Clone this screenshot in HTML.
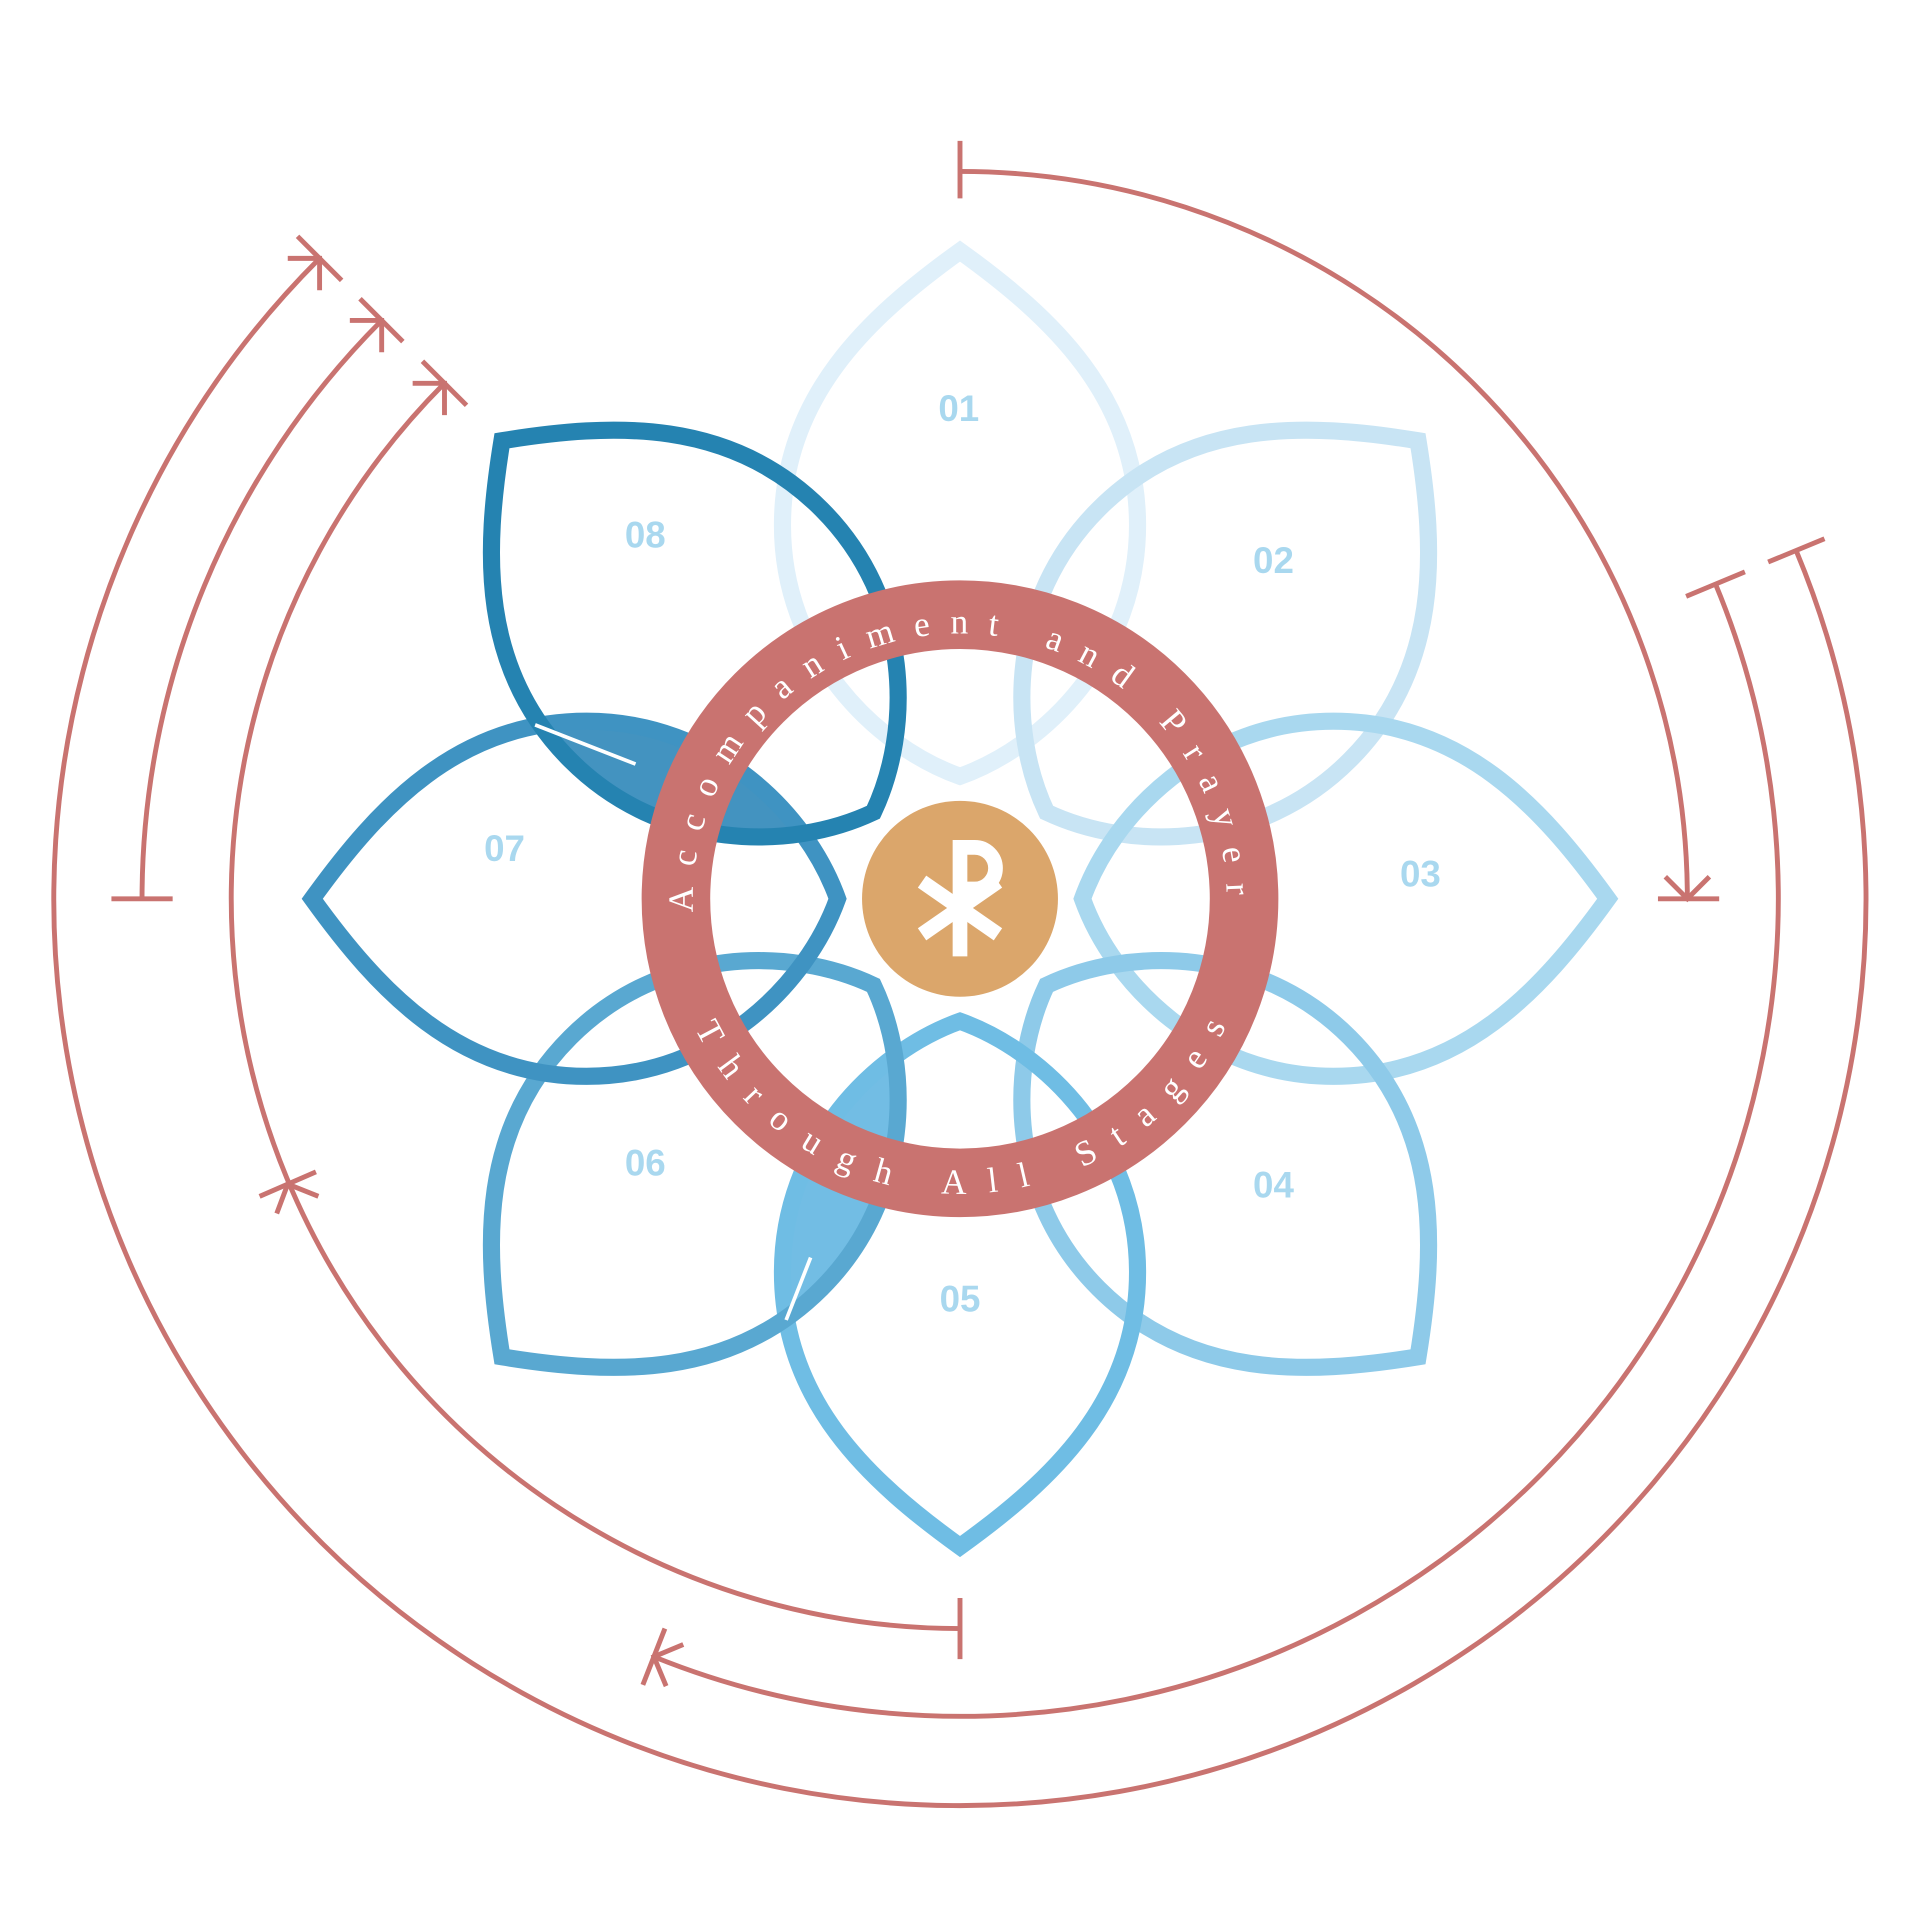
<!DOCTYPE html>
<html><head><meta charset="utf-8"><style>html,body{margin:0;padding:0;background:#fff}svg{display:block}</style></head>
<body>
<svg width="1920" height="1920" viewBox="0 0 1568 1568" xmlns="http://www.w3.org/2000/svg">
<defs>
<path id="petal" d="M0,-100 C-70,-125 -145,-200 -145,-305 C-145,-410 -75,-475 0,-529 C75,-475 145,-410 145,-305 C145,-200 70,-125 0,-100 Z"/>
<clipPath id="c08"><use href="#petal" transform="translate(784 734) rotate(315)"/></clipPath>
<clipPath id="c06"><use href="#petal" transform="translate(784 734) rotate(225)"/></clipPath>
<path id="topArc" d="M566,745 A218,218 0 1 1 998.7,771.9"/>
<path id="botArc" d="M567.4,839.6 A241,241 0 0 0 1004.2,832"/>
</defs>
<g clip-path="url(#c08)"><use href="#petal" transform="translate(784 734) rotate(270)" fill="#4393c0"/></g>
<g clip-path="url(#c06)"><use href="#petal" transform="translate(784 734) rotate(180)" fill="#72bde4"/></g>
<g fill="none" stroke-width="14" stroke-linejoin="miter">
<use href="#petal" transform="translate(784 734) rotate(0)" stroke="#e0f0fa"/>
<use href="#petal" transform="translate(784 734) rotate(45)" stroke="#c8e4f4"/>
<use href="#petal" transform="translate(784 734) rotate(90)" stroke="#a9d8ef"/>
<use href="#petal" transform="translate(784 734) rotate(135)" stroke="#8ecae9"/>
<use href="#petal" transform="translate(784 734) rotate(180)" stroke="#6fbde4"/>
<use href="#petal" transform="translate(784 734) rotate(225)" stroke="#59a8d1"/>
<use href="#petal" transform="translate(784 734) rotate(270)" stroke="#3f93c2"/>
<use href="#petal" transform="translate(784 734) rotate(315)" stroke="#2583b1"/>
</g>
<g stroke="#fff" stroke-width="3">
<line x1="437" y1="592" x2="519" y2="624"/>
<line x1="662" y1="1027" x2="642" y2="1078"/>
</g>
<g font-family="'Liberation Sans',sans-serif" font-weight="bold" font-size="30" fill="#a9d8ef" text-anchor="middle">
<text x="783" y="344">01</text>
<text x="1040" y="468">02</text>
<text x="1160" y="724">03</text>
<text x="1040" y="978">04</text>
<text x="784" y="1071">05</text>
<text x="527" y="960">06</text>
<text x="412" y="703">07</text>
<text x="527" y="447">08</text>
</g>
<circle cx="784" cy="734" r="232" fill="none" stroke="#c97370" stroke-width="56"/>
<g font-family="'Liberation Serif',serif" font-size="29" fill="#fff">
<text><textPath href="#topArc" textLength="690" lengthAdjust="spacing">Accompaniment and Prayer</textPath></text>
<text><textPath href="#botArc" textLength="540" lengthAdjust="spacing">Through All Stages</textPath></text>
</g>
<circle cx="784" cy="734" r="80" fill="#dba66b"/>
<g fill="none" stroke="#fff" stroke-width="12">
<line x1="784" y1="686" x2="784" y2="781"/>
<path d="M784,692 H796 A17,17 0 0 1 796,726 H784"/>
<line x1="753" y1="720" x2="815" y2="763"/>
<line x1="753" y1="763" x2="815" y2="720"/>
</g>
<g fill="none" stroke="#c97370" stroke-width="4">
<path d="M784,140 A594,594 0 0 1 1378,734"/>
<line x1="784" y1="115" x2="784" y2="162"/>
<line x1="1354" y1="734" x2="1404" y2="734"/>
<polyline points="1360,716 1378,734 1396,716"/>

<path d="M1401,477 A668,668 0 0 1 534,1353"/>
<line x1="1377" y1="487" x2="1425" y2="467"/>
<line x1="543" y1="1330" x2="525" y2="1376"/>
<polyline points="544,1377 534,1353 558,1343"/>

<path d="M1467,450 A740,740 0 1 1 261,211"/>
<line x1="1444" y1="459" x2="1490" y2="440"/>
<line x1="243" y1="193" x2="279" y2="229"/>
<polyline points="261,237 261,211 235,211"/>

<path d="M784,1330 A596,596 0 0 1 363,313"/>
<line x1="784" y1="1305" x2="784" y2="1355"/>
<line x1="345" y1="295" x2="381" y2="331"/>
<polyline points="363,339 363,313 337,313"/>
<line x1="212" y1="977" x2="258" y2="957"/>
<polyline points="226,991 235,967 260,977"/>

<path d="M116,734 A668,668 0 0 1 311.7,261.7"/>
<line x1="91" y1="734" x2="141" y2="734"/>
<line x1="294" y1="244" x2="329" y2="279"/>
<polyline points="311.7,287.7 311.7,261.7 285.7,261.7"/>
</g>
</svg>
</body></html>
